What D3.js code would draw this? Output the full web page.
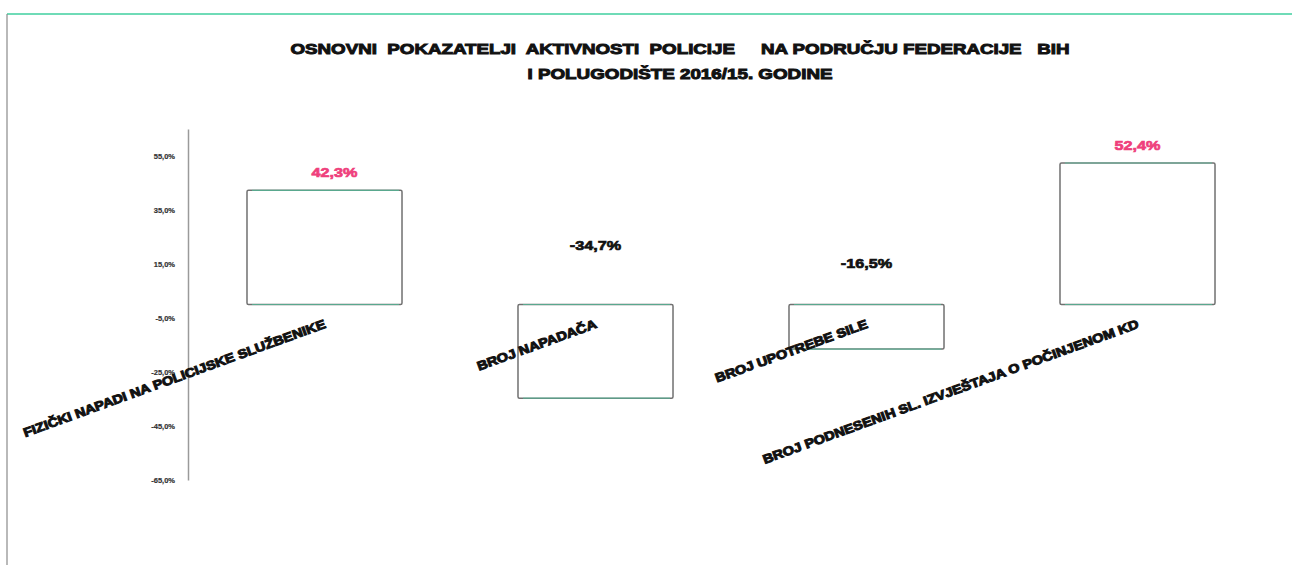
<!DOCTYPE html>
<html>
<head>
<meta charset="utf-8">
<script src="https://cdn.jsdelivr.net/npm/d3@7"></script>
<style>
  html, body { margin: 0; padding: 0; background: #fff; }
  svg { display: block; }
</style>
</head>
<body>
<svg id="chart" width="1292" height="565"></svg>
<script>
// Change in key police activity indicators, first half of 2016 vs 2015
const categories = [
  "FIZIČKI NAPADI NA POLICIJSKE SLUŽBENIKE",
  "BROJ NAPADAČA",
  "BROJ UPOTREBE SILE",
  "BROJ PODNESENIH SL. IZVJEŠTAJA O POČINJENOM KD"
];
const changes = [42.3, -34.7, -16.5, 52.4];
const valueLabels = ["42,3%", "-34,7%", "-16,5%", "52,4%"];
const tickValues = [55, 35, 15, -5, -25, -45, -65];
const tickLabels = ["55,0%", "35,0%", "15,0%", "-5,0%", "-25,0%", "-45,0%", "-65,0%"];
const titleLines = [
  "OSNOVNI  POKAZATELJI  AKTIVNOSTI  POLICIJE     NA PODRUČJU FEDERACIJE   BIH",
  "I POLUGODIŠTE 2016/15. GODINE"
];

const svg = d3.select("#chart");
const W = 1292, H = 565;
const FONT = "'Liberation Sans', Arial, sans-serif";

// stretch a text node horizontally by a factor
function widen(t, k) {
  const natural = t.node().getComputedTextLength();
  t.attr("textLength", natural * k).attr("lengthAdjust", "spacingAndGlyphs");
}

// page frame
svg.append("line").attr("x1", 7).attr("x2", W).attr("y1", 14).attr("y2", 14)
  .attr("stroke", "#3fcf9f").attr("stroke-width", 1.5);
svg.append("line").attr("x1", 7).attr("x2", 7).attr("y1", 14).attr("y2", H)
  .attr("stroke", "#8a8a8a").attr("stroke-width", 1.2);

// title
const titleG = svg.append("g").attr("font-family", FONT)
  .attr("font-weight", "bold").attr("fill", "#111").attr("text-anchor", "middle")
  .attr("stroke", "#111").attr("stroke-width", 1);
titleG.append("text").attr("x", 680).attr("y", 54).attr("font-size", 15.5)
  .style("white-space", "pre").attr("textLength", 779).attr("lengthAdjust", "spacingAndGlyphs")
  .text(titleLines[0]);
titleG.append("text").attr("x", 680).attr("y", 79).attr("font-size", 15.5)
  .attr("textLength", 305).attr("lengthAdjust", "spacingAndGlyphs")
  .text(titleLines[1]);

// scales
const x = d3.scaleBand().domain(categories).range([189, 1273]).paddingInner(0.428).paddingOuter(0.214);
const y = d3.scaleLinear().domain([-65, 65]).range([480, 129]);

// value axis
const yAxis = d3.axisLeft(y).tickValues(tickValues)
  .tickFormat((d, i) => tickLabels[i]).tickSize(0).tickPadding(13);
const yG = svg.append("g").attr("transform", "translate(188,0)").call(yAxis);
yG.select(".domain").attr("stroke", "#9a9a9a").attr("stroke-width", 1.5);
yG.selectAll("text").attr("font-family", FONT)
  .attr("font-size", 7.5).attr("font-weight", "bold").attr("fill", "#333")
  .attr("stroke", "#333").attr("stroke-width", 0.2);

// bars
const bars = svg.append("g");
categories.forEach((c, i) => {
  const v = changes[i];
  const x0 = x(c), bw = x.bandwidth();
  const yTop = y(Math.max(0, v)), yBot = y(Math.min(0, v));
  bars.append("rect").attr("x", x0).attr("y", yTop).attr("width", bw).attr("height", yBot - yTop)
    .attr("fill", "#fff").attr("stroke", "#707070").attr("stroke-width", 1.5).attr("rx", 1.5);
  // teal highlight along the horizontal edges
  [yTop, yBot].forEach(ey => {
    bars.append("line").attr("x1", x0 + 5).attr("x2", x0 + bw - 3).attr("y1", ey).attr("y2", ey)
      .attr("stroke", "#48d6a8").attr("stroke-width", 1.2).attr("opacity", 0.55);
  });
});

// value labels: positives above the bar, negatives lifted above the baseline
const negLift = { "-34,7%": 55, "-16,5%": 37 };
categories.forEach((c, i) => {
  const v = changes[i];
  const cx = x(c) + x.bandwidth() / 2;
  const ly = v >= 0 ? y(v) - 13 : y(0) - negLift[valueLabels[i]];
  const t = svg.append("text").attr("x", cx + (i === 0 ? 10 : 0)).attr("y", ly)
    .attr("text-anchor", "middle")
    .attr("font-family", FONT)
    .attr("font-size", 13.5).attr("font-weight", "bold")
    .attr("fill", v >= 0 ? "#ef3f7c" : "#111")
    .attr("stroke", v >= 0 ? "#ef3f7c" : "#111").attr("stroke-width", 0.7)
    .text(valueLabels[i]);
  widen(t, 1.2);
});

// category labels, slanted, ending at the band centre
categories.forEach((c) => {
  const cx = x(c) + x.bandwidth() / 2;
  const t = svg.append("text")
    .attr("transform", `translate(${cx + 2},${y(0) + 23}) rotate(-20)`)
    .attr("text-anchor", "end")
    .attr("font-family", FONT)
    .attr("font-size", 12.5).attr("font-weight", "bold").attr("fill", "#111")
    .attr("stroke", "#111").attr("stroke-width", 1)
    .text(c);
  widen(t, 1.16);
});
</script>
</body>
</html>
